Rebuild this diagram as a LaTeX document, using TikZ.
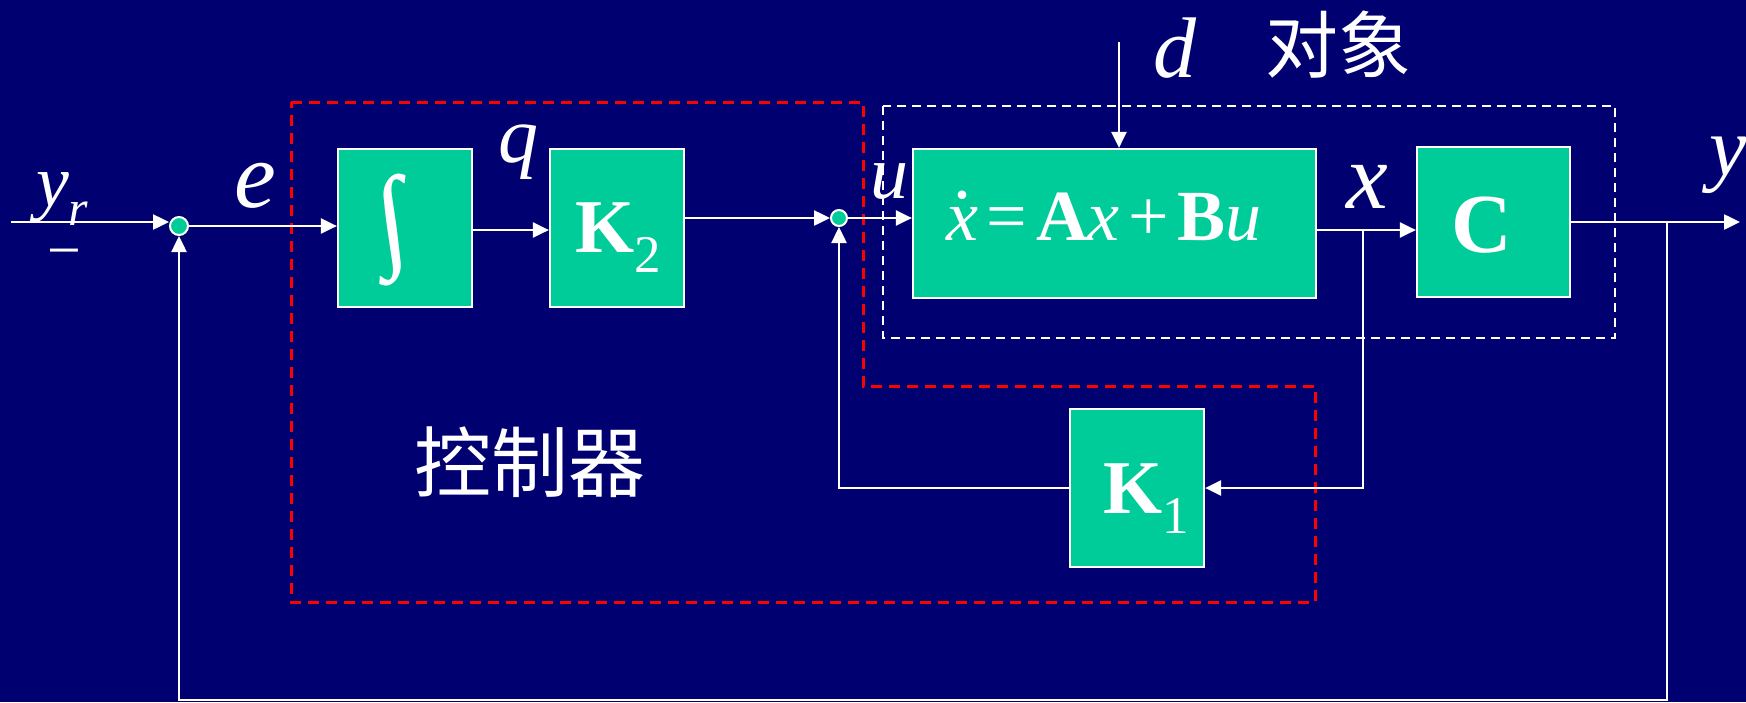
\documentclass[tikz,border=0pt]{standalone}
\usepackage{fontspec}
\setmainfont{Liberation Serif}
\newfontfamily\cjk{Noto Sans CJK SC}
\usetikzlibrary{arrows.meta}
\definecolor{navy}{RGB}{0,0,112}
\definecolor{boxgreen}{RGB}{0,204,153}
\newcommand{\fs}[1]{\fontsize{#1}{#1}\selectfont}
\newcommand{\dotx}{\makebox[0pt][l]{\hspace{0.1em}\raisebox{0.58em}{\upshape .}}\textit{x}}
\begin{document}
\begin{tikzpicture}[x=0.5pt,y=-0.5pt,
 blk/.style={draw=white,line width=1.1pt,fill=boxgreen,inner sep=0pt},
 sumpt/.style={circle,draw=white,line width=1pt,fill=boxgreen,minimum size=9pt,inner sep=0pt},
 arr/.style={draw=white,line width=1.25pt,-{Triangle[length=8pt,width=7.5pt]}},
 lbl/.style={text=white,inner sep=0pt,outer sep=0pt},
 reddash/.style={draw=red,line width=1.5pt,dash pattern=on 5.5pt off 3.5pt},
 whitedash/.style={draw=white,line width=1.3pt,dash pattern=on 4.5pt off 3pt}]
\fill[navy] (0,0) rectangle (1746,702);
\useasboundingbox (0,0) rectangle (1746,702);

% groups
\draw[reddash] (291,102) -- (863,102) -- (863,386) -- (1315,386) -- (1315,602) -- (291,602) -- cycle;
\draw[whitedash] (883,106) rectangle (1615,338);

% blocks
\node[sumpt] (c1) at (179,226) {};
\node[sumpt,minimum size=8pt] (c2) at (839,218) {};
\node[blk,minimum width=67pt,minimum height=79pt] (int) at (405,228) {};
\node[blk,minimum width=67pt,minimum height=79pt] (k2) at (617,228) {};
\node[blk,minimum width=201.5pt,minimum height=74.5pt] (big) at (1114.5,223.5) {};
\node[blk,minimum width=76.5pt,minimum height=75pt] (cbox) at (1493.5,222) {};
\node[blk,minimum width=67pt,minimum height=79pt] (k1) at (1137,488) {};

% block texts
\node[lbl,xslant=-0.14] (intsym) at (393,230) {\resizebox*{15pt}{56pt}{∫}};
\node[lbl,anchor=base west] (k2t) at (575,252) {\fs{38}\bfseries K\raisebox{-10pt}{\mdseries\fs{26.5}2}};
\node[lbl,anchor=base west] (k1t) at (1103,513) {\fs{38}\bfseries K\raisebox{-10pt}{\mdseries\fs{26.5}1}};
\node[lbl,anchor=base] (ct) at (1482,252) {\fs{42}\bfseries C};
\node[lbl,anchor=base] (eq) at (1104,240) {\fs{36}\dotx\hspace{0.12em}=\hspace{0.12em}\textbf{A}\textit{x}\hspace{0.12em}+\hspace{0.12em}\textbf{B}\textit{u}};

% labels
\node[lbl,anchor=base west] (yr) at (36,206) {\fs{37}\itshape y\raisebox{-9.5pt}{\fs{25}r}};
\node[lbl,anchor=base] (minus) at (64,270) {\fs{30}−};
\node[lbl,anchor=base] (e) at (255,207) {\fs{47}\itshape e};
\node[lbl,anchor=base] (q) at (518,162) {\fs{40}\itshape q};
\node[lbl,anchor=base] (u) at (889,198) {\fs{38}\itshape u};
\node[lbl,anchor=base] (d) at (1175,77) {\fs{43}\itshape d};
\node[lbl] (obj) at (1338,45) {\cjk\fs{36.5}对象};
\node[lbl,anchor=base] (xl) at (1367,208) {\fs{47}\itshape x};
\node[lbl,anchor=base] (yo) at (1728,175) {\fs{42}\itshape y};
\node[lbl] (ctrl) at (530,462) {\cjk\fs{38.5}控制器};

% connectors
\coordinate (yin) at (11,222);
\draw[arr] (yin) -- (yin -| c1.west);
\draw[arr] (c1.east) -- (c1.east -| int.west);
\draw[arr] ([yshift=-1pt]int.east) -- ([yshift=-1pt]k2.west);
\draw[arr] (k2.east |- c2) -- (c2.west);
\draw[arr] (c2.east) -- (c2.east -| big.west);
\coordinate (dtop) at (1119,42);
\draw[arr] (dtop) -- (dtop |- big.north);
\coordinate (xb) at (1363,230);
\draw[arr] (big.east |- xb) -- (xb -| cbox.west);
\draw[arr] (xb) |- (k1.east);
\draw[arr] (k1.west) -| (c2.south);
\coordinate (yb) at (1667,222);
\coordinate (yout) at (1740,222);
\draw[arr] (cbox.east |- yb) -- (yout);
\coordinate (fbr) at (1667,700);
\draw[arr] (yb) -- (fbr) -| (c1.south);
\end{tikzpicture}
\end{document}
